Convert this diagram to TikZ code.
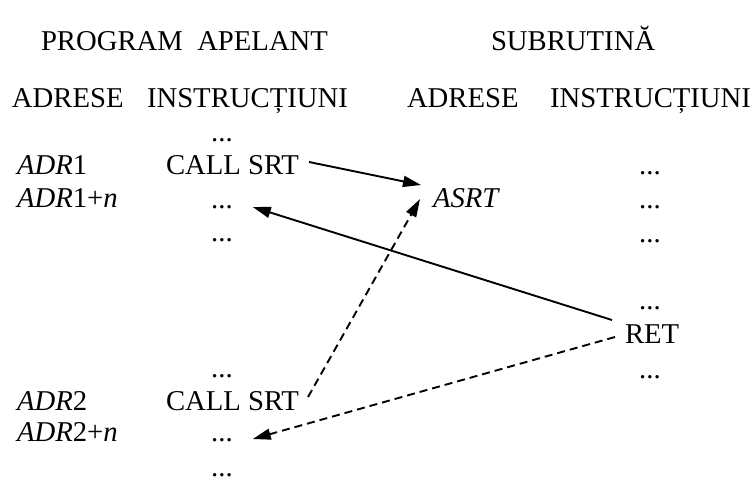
\documentclass[tikz,border=0pt]{standalone}
\usepackage{fontspec}
\setmainfont{Liberation Serif}
\usetikzlibrary{arrows.meta,calc}

\begin{document}
\begin{tikzpicture}[x=1pt,y=-1pt,
    txt/.style={inner sep=0pt,outer sep=0pt,font=\fontsize{28.7}{34}\selectfont},
    lt/.style={txt,anchor=base west},
    rt/.style={txt,anchor=base east},
    ct/.style={txt,anchor=base},
    link/.style={line width=1.9pt,-{Triangle[length=18pt,width=11pt]}},
    dlink/.style={link,dash pattern=on 8pt off 5pt}]
  \useasboundingbox (0,0) rectangle (754,477);

  % headings
  \node[lt] (hprog) at (41,50) {PROGRAM\hspace{0.5em}APELANT};
  \node[lt] (hsub)  at (491,50) {SUBRUTINĂ};
  \node[lt] (adrA)  at (12,107) {ADRESE};
  \node[lt] (insA)  at (147,107) {INSTRUCȚIUNI};
  \node[lt] (adrB)  at (407,107) {ADRESE};
  \node[rt] (insB)  at (751,107) {INSTRUCȚIUNI};

  % calling program
  \node[ct] (d0) at (222,141) {...};
  \node[lt] (a1)  at (17,174) {\textit{ADR}1};
  \node[lt] (call1) at (166,174) {CALL SRT};
  \node[lt] (a1n) at (17,207) {\textit{ADR}1+\textit{n}};
  \node[ct] (d1) at (222,208) {...};
  \node[ct] (d2) at (222,241) {...};
  \node[ct] (d3) at (222,377) {...};
  \node[lt] (a2)  at (17,410) {\textit{ADR}2};
  \node[lt] (call2) at (166,410) {CALL SRT};
  \node[lt] (a2n) at (17,441) {\textit{ADR}2+\textit{n}};
  \node[ct] (d4) at (222,441) {...};
  \node[ct] (d5) at (222,476) {...};

  % subroutine
  \node[lt] (asrt) at (433,207) {\textit{ASRT}};
  \node[ct] (s1) at (650,174) {...};
  \node[ct] (s2) at (650,208) {...};
  \node[ct] (s3) at (650,242) {...};
  \node[ct] (s4) at (650,309) {...};
  \node[lt] (ret) at (625,343) {RET};
  \node[ct] (s5) at (650,378) {...};

  % call and return paths
  \draw[link]  ($(call1.base east)+(10,-12)$) -- ($(asrt.base west)+(-12,-22)$);
  \draw[link]  ($(ret.base west)+(-13,-23)$) -- ($(d1.base east)+(20,-1)$);
  \draw[dlink] ($(call2.base east)+(9,-13)$) -- ($(asrt.base west)+(-13,-8)$);
  \draw[dlink] ($(ret.base west)+(-10,-6)$) -- ($(d4.base east)+(20,-2)$);
\end{tikzpicture}
\end{document}
